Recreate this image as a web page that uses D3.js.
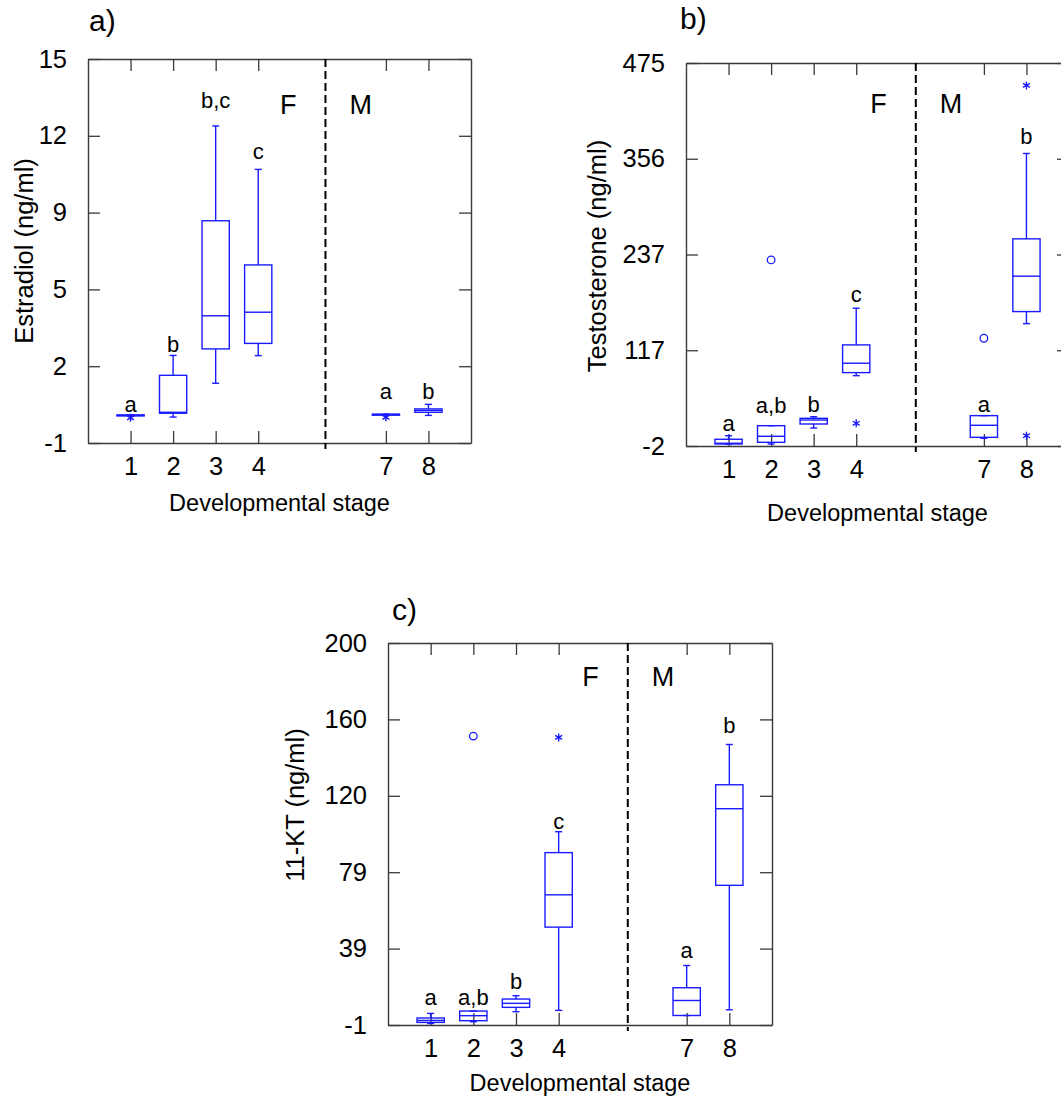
<!DOCTYPE html>
<html>
<head>
<meta charset="utf-8">
<script src="https://cdn.jsdelivr.net/npm/d3@7"></script>
<style>
  body { margin: 0; background: #fff; }
  text { font-family: "Liberation Sans", Arial, sans-serif; }
</style>
</head>
<body>
<svg></svg>
<script>
// stages on the x axis (same for all three panels)
var stages = [1, 2, 3, 4, 7, 8];

// a) Estradiol: [whisker low, q1, median, q3, whisker high] per stage
var estradiol = [
    [0.13, 0.13, 0.15, 0.17, 0.17],
    [0.08, 0.24, 0.28, 1.82, 2.65],
    [1.49, 2.92, 4.30, 8.26, 12.21],
    [2.64, 3.15, 4.45, 6.42, 10.40],
    [0.18, 0.18, 0.19, 0.20, 0.20],
    [0.15, 0.28, 0.36, 0.42, 0.61]
];
var estradiolCircles = [];
var estradiolStars = [[1, 0.05], [7, 0.07]];
var estradiolLetters = ["a", "b", "b,c", "c", "a", "b"];
var estradiolLetterAt = [0.28, 2.8, 12.97, 10.82, 0.83, 0.83];
var estradiolTicks = ["-1", "2", "5", "9", "12", "15"];

// b) Testosterone
var testosterone = [
    [0.5, 0.5, 1.4, 6.4, 10.8],
    [0.5, 2.6, 10.1, 23.3, 23.3],
    [20.4, 25.4, 30.4, 32.5, 34.5],
    [85.6, 89.4, 101.1, 123.9, 169.6],
    [7.6, 8.8, 23.8, 35.8, 35.8],
    [150.4, 165.4, 209.5, 256.0, 362.3]
];
var testosteroneCircles = [[2, 229.8], [7, 132.2]];
var testosteroneStars = [[4, 26.3], [8, 447.1], [8, 10.8]];
var testosteroneLetters = ["a", "a,b", "b", "c", "a", "b"];
var testosteroneLetterAt = [17.1, 38.8, 40.8, 177.1, 40.8, 374.4];
var testosteroneTicks = ["-2", "117", "237", "356", "475"];

// c) 11-KT
var kt = [
    [-0.2, 0.37, 1.4, 2.68, 5.1],
    [0.73, 1.26, 3.9, 6.35, 6.35],
    [6.0, 8.28, 10.4, 12.66, 14.4],
    [6.7, 50.5, 67.5, 89.7, 100.7],
    [4.0, 4.0, 11.9, 18.6, 30.3],
    [7.0, 72.5, 112.8, 125.4, 146.6]
];
var ktCircles = [[2, 151.0]];
var ktStars = [[4, 150.3]];
var ktLetters = ["a", "a,b", "b", "c", "a", "b"];
var ktLetterAt = [9.3, 9.3, 17.9, 102.0, 34.5, 152.4];
var ktTicks = ["-1", "39", "79", "120", "160", "200"];

var blue = "#1a1aff";
var frameColor = "#3a3a3a";

var panels = [
    { boxes: estradiol, circles: estradiolCircles, stars: estradiolStars, letters: estradiolLetters, letterAt: estradiolLetterAt,
      ticks: estradiolTicks, domain: [-1, 15], title: "a)", ylabel: "Estradiol (ng/ml)",
      left: 88, top: 59, width: 383, height: 384, divider: 5.58, fmDy: 55,
      titlePos: [89, 31], xlabelY: 511, ylabelPos: [33, 251] },
    { boxes: testosterone, circles: testosteroneCircles, stars: testosteroneStars, letters: testosteroneLetters, letterAt: testosteroneLetterAt,
      ticks: testosteroneTicks, domain: [-2, 475], title: "b)", ylabel: "Testosterone (ng/ml)",
      left: 686, top: 63, width: 383, height: 383, divider: 5.40, fmDy: 50,
      titlePos: [680, 29], xlabelY: 521, ylabelPos: [606, 256] },
    { boxes: kt, circles: ktCircles, stars: ktStars, letters: ktLetters, letterAt: ktLetterAt,
      ticks: ktTicks, domain: [-1, 200], title: "c)", ylabel: "11-KT (ng/ml)",
      left: 388, top: 643, width: 384, height: 382, divider: 5.62, fmDy: 43,
      titlePos: [392, 620], xlabelY: 1091, ylabelPos: [304, 805] }
];

var svg = d3.select("svg")
    .attr("width", 1061)
    .attr("height", 1101);

function drawPanel(p) {
    var g = svg.append("g");
    var bottom = p.top + p.height;

    var x = d3.scaleLinear().domain([0, 9]).range([p.left, p.left + p.width]);
    var y = d3.scaleLinear().domain(p.domain).range([bottom, p.top]);

    var n = p.ticks.length;
    var tickVals = p.ticks.map((t, i) => p.domain[0] + i * (p.domain[1] - p.domain[0]) / (n - 1));

    // frame + inward ticks
    var axes = [
        { gen: d3.axisLeft(y).tickValues(tickVals).tickFormat((d, i) => p.ticks[i]).tickPadding(21), t: "translate(" + p.left + ",0)" },
        { gen: d3.axisRight(y).tickValues(tickVals).tickFormat(""), t: "translate(" + (p.left + p.width) + ",0)" },
        { gen: d3.axisTop(x).tickValues(stages).tickFormat(""), t: "translate(0," + p.top + ")" },
        { gen: d3.axisBottom(x).tickValues(stages).tickFormat(d3.format("d")).tickPadding(14), t: "translate(0," + bottom + ")" }
    ];
    axes.forEach(function(a) {
        g.append("g")
            .attr("transform", a.t)
            .call(a.gen.tickSizeInner(-12).tickSizeOuter(0));
    });

    g.selectAll(".domain")
        .attr("stroke", frameColor)
        .attr("stroke-width", 1.4);
    g.selectAll(".tick line")
        .attr("stroke", frameColor)
        .attr("stroke-width", 1.3);
    g.selectAll(".tick text")
        .attr("font-size", 25.5)
        .attr("font-family", "Liberation Sans, Arial, sans-serif")
        .attr("fill", "#000");

    // dashed F / M divider
    g.append("line")
        .attr("x1", x(p.divider)).attr("x2", x(p.divider))
        .attr("y1", p.top).attr("y2", bottom + 6)
        .attr("stroke", "#000")
        .attr("stroke-width", 2)
        .attr("stroke-dasharray", "8,4");

    g.append("text")
        .attr("x", x(p.divider) - 29).attr("y", p.top + p.fmDy)
        .attr("text-anchor", "end").attr("font-size", 27)
        .text("F");
    g.append("text")
        .attr("x", x(p.divider) + 24).attr("y", p.top + p.fmDy)
        .attr("font-size", 27)
        .text("M");

    // boxes
    var step = x(1) - x(0);
    var bw = step * 0.64;
    var cap = 3.5;
    var boxes = g.selectAll(".box")
        .data(p.boxes.map((b, i) => ({ stage: stages[i], lo: b[0], q1: b[1], med: b[2], q3: b[3], hi: b[4] })))
        .enter().append("g")
        .attr("class", "box")
        .attr("stroke", blue)
        .attr("stroke-width", 1.4)
        .attr("fill", "none");

    boxes.append("line")
        .attr("x1", d => x(d.stage)).attr("x2", d => x(d.stage))
        .attr("y1", d => y(d.hi)).attr("y2", d => y(d.q3));
    boxes.append("line")
        .attr("x1", d => x(d.stage)).attr("x2", d => x(d.stage))
        .attr("y1", d => y(d.q1)).attr("y2", d => y(d.lo));
    boxes.append("line")
        .attr("x1", d => x(d.stage) - cap).attr("x2", d => x(d.stage) + cap)
        .attr("y1", d => y(d.hi)).attr("y2", d => y(d.hi));
    boxes.append("line")
        .attr("x1", d => x(d.stage) - cap).attr("x2", d => x(d.stage) + cap)
        .attr("y1", d => y(d.lo)).attr("y2", d => y(d.lo));
    boxes.append("rect")
        .attr("x", d => x(d.stage) - bw / 2)
        .attr("y", d => y(d.q3))
        .attr("width", bw)
        .attr("height", d => Math.max(1, y(d.q1) - y(d.q3)));
    boxes.append("line")
        .attr("x1", d => x(d.stage) - bw / 2).attr("x2", d => x(d.stage) + bw / 2)
        .attr("y1", d => y(d.med)).attr("y2", d => y(d.med));

    // outliers
    g.selectAll(".circ")
        .data(p.circles)
        .enter().append("circle")
        .attr("cx", d => x(d[0])).attr("cy", d => y(d[1]))
        .attr("r", 3.8)
        .attr("fill", "none").attr("stroke", blue).attr("stroke-width", 1.3);

    g.selectAll(".star")
        .data(p.stars)
        .enter().append("path")
        .attr("d", d3.symbol(d3.symbolAsterisk, 45))
        .attr("transform", d => "translate(" + x(d[0]) + "," + y(d[1]) + ")")
        .attr("fill", "none").attr("stroke", blue).attr("stroke-width", 1.4);

    // significance letters
    g.selectAll(".letter")
        .data(p.letters)
        .enter().append("text")
        .attr("x", (d, i) => x(stages[i]))
        .attr("y", (d, i) => y(p.letterAt[i]))
        .attr("text-anchor", "middle")
        .attr("font-size", 22)
        .text(d => d);

    // titles and axis labels
    g.append("text")
        .attr("x", p.titlePos[0]).attr("y", p.titlePos[1])
        .attr("font-size", 30)
        .text(p.title);

    g.append("text")
        .attr("x", p.left + p.width / 2).attr("y", p.xlabelY)
        .attr("text-anchor", "middle").attr("font-size", 23.5)
        .text("Developmental stage");

    g.append("text")
        .attr("transform", "translate(" + p.ylabelPos[0] + "," + p.ylabelPos[1] + ") rotate(-90)")
        .attr("text-anchor", "middle").attr("font-size", 25.5)
        .text(p.ylabel);
}

panels.forEach(drawPanel);
</script>
</body>
</html>
